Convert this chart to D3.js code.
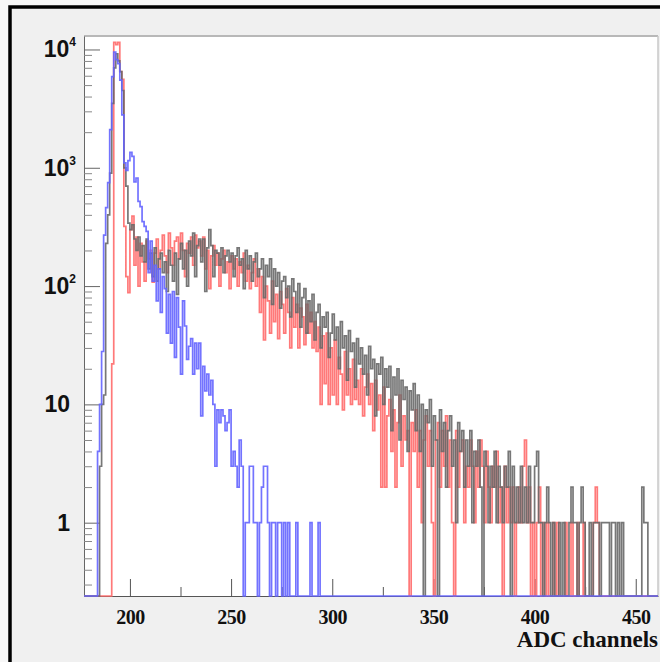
<!DOCTYPE html>
<html><head><meta charset="utf-8">
<script src="https://cdn.jsdelivr.net/npm/d3@7"></script>
<style>body{margin:0;background:#f7f7f7}svg{display:block}</style>
</head><body><svg id="c" width="660" height="662"></svg>
<script>
// ---- data: counts per ADC channel, first bin = channel 177 ----
const channelStart = 177;

const redCounts = [
  0,0,0,
  0,0,0,0,0,0,0,0,0,0,
  0,22,11500,11000,11500,6500,5600,320,120,88,
  300,390,150,260,100,230,160,110,240,170,
  200,108,190,250,140,200,270,180,130,280,
  210,150,240,260,170,280,200,120,230,190,
  260,150,270,210,240,180,260,140,200,95,
  180,220,150,190,100,170,200,130,160,95,
  180,140,170,100,160,130,190,110,150,95,
  130,170,100,140,60,120,35,100,75,40,
  110,50,85,36,90,70,40,95,60,30,
  80,45,70,30,65,55,32,70,40,60,
  30,50,28,45,10,38,15,40,10,30,
  12,35,10,25,18,9,28,12,20,10,
  24,11,16,10,20,8,14,18,10,15,
  6,16,9,12,2,14,2,8,11,4,
  9,2,7,12,3,8,5,6,0,7,
  4,9,2,6,1,5,8,3,6,1,
  0,5,7,2,6,3,8,2,5,1,
  0,6,2,4,5,1,3,2,5,3,
  1,4,2,5,3,1,4,2,1,3,
  2,4,1,2,0,3,1,2,1,2,
  0,1,2,1,3,5,1,2,0,1,
  0,1,2,0,1,0,1,0,0,1,
  0,1,0,0,0,1,0,0,1,0,
  0,1,0,0,1,0,0,0,0,1,
  2,1,0,0,0,0,0,0,0,0,
  0,0,0,0,0,0,0,0,0,0,
  0,0,0,0,0,0,0,0,0,0,
  0
];

const greyCounts = [
  0,0,0,
  0,0,0,0,0,3,10,12,230,400,
  900,3500,7000,9200,8000,6500,4500,1000,700,340,
  300,330,250,200,260,180,220,160,250,140,
  190,120,210,110,170,190,130,160,90,200,
  150,110,190,85,170,230,140,200,100,240,
  180,280,120,220,250,160,250,90,210,300,
  220,120,200,190,150,210,130,180,200,160,
  190,120,180,210,150,170,95,200,140,180,
  110,160,190,120,140,170,80,150,120,170,
  70,140,100,130,65,110,120,80,100,55,
  115,90,60,105,45,80,95,40,75,50,
  85,35,60,70,30,55,45,60,25,40,
  58,35,45,20,50,30,38,16,42,28,
  33,14,36,22,30,18,26,12,31,20,
  24,8,22,18,25,10,20,14,21,6,
  17,12,20,5,16,11,14,4,13,9,
  15,6,12,4,10,0,9,7,11,3,
  8,5,0,9,4,7,2,6,8,3,
  5,1,7,4,6,2,5,3,6,1,
  4,3,5,2,0,4,3,1,3,2,
  4,1,3,2,1,3,2,4,0,3,
  1,2,1,3,1,2,1,3,1,1,
  3,4,1,1,0,1,2,1,0,1,
  0,0,1,0,1,0,0,1,2,1,
  1,0,1,2,1,0,0,1,0,1,
  1,1,0,1,1,1,1,0,1,1,
  0,1,0,1,0,0,0,0,0,0,
  0,0,0,2,1,1,0,0,0,0,
  0
];

const blueCounts = [
  0,0,0,
  0,0,0,0,4,10,28,270,460,750,
  2100,5900,9500,8200,7600,5500,2800,1100,950,1150,
  1350,1250,760,820,520,470,350,320,290,130,
  240,110,150,75,140,60,120,95,40,85,
  33,90,25,80,45,18,75,46,24,31,
  36,18,33,20,33,8,21,13,18,12,
  16,10,3,9,7,9,8,6,7,9,
  3,4,3,2,5,3,0,1,1,3,
  3,1,1,0,1,2,3,3,1,0,
  1,1,0,1,1,0,1,0,1,0,
  0,0,1,0,0,0,0,0,0,1,
  0,0,0,1,0,0,0,0,0,0,
  0,0,0,0,0,0,0,0,0,0,
  0,0,0,0,0,0,0,0,0,0,
  0,0,0,0,0,0,0,0,0,0,
  0,0,0,0,0,0,0,0,0,0,
  0,0,0,0,0,0,0,0,0,0,
  0,0,0,0,0,0,0,0,0,0,
  0,0,0,0,0,0,0,0,0,0,
  0,0,0,0,0,0,0,0,0,0,
  0,0,0,0,0,0,0,0,0,0,
  0,0,0,0,0,0,0,0,0,0,
  0,0,0,0,0,0,0,0,0,0,
  0,0,0,0,0,0,0,0,0,0,
  0,0,0,0,0,0,0,0,0,0,
  0,0,0,0,0,0,0,0,0,0,
  0,0,0,0,0,0,0,0,0,0,
  0,0,0,0,0,0,0,0,0,0,
  0
];

const xMajorTicks = [200, 250, 300, 350, 400, 450];
const xMinorTicks = [225, 275, 325, 375, 425];
const yMajorTicks = [1, 10, 100, 1000, 10000];
const yTickBase = ['1', '10', '10', '10', '10'];
const yTickSup = ['', '', '2', '3', '4'];
const xTitle = 'ADC channels';

// ---- layout ----
const L = 84, T = 36, R = 658, B = 596;
const svg = d3.select('#c');

svg.append('rect').attr('x', 10).attr('y', 7).attr('width', 700).attr('height', 700)
  .attr('fill', '#f0f0f0').attr('stroke', '#000').attr('stroke-width', 3.5);

svg.append('rect').attr('x', L).attr('y', T).attr('width', R - L).attr('height', B - T)
  .attr('fill', '#fff');

const x = d3.scaleLinear().domain([177.3, 461]).range([L, R]);
const y = d3.scaleLog().domain([0.24, 13000]).range([B, T]);

// frame top & right
svg.append('line').attr('x1', L).attr('x2', R).attr('y1', T).attr('y2', T)
  .attr('stroke', '#b8b8b8').attr('stroke-width', 2);
svg.append('line').attr('x1', R).attr('x2', R).attr('y1', T).attr('y2', B)
  .attr('stroke', '#c8c8c8').attr('stroke-width', 1.5);

// axes
const gx = svg.append('g').attr('transform', `translate(0,${B})`)
  .call(d3.axisBottom(x).tickValues(xMajorTicks).tickSizeInner(-17).tickSizeOuter(0)
    .tickPadding(26).tickFormat(d3.format('d')));
gx.select('.domain').attr('stroke', '#555');
gx.selectAll('.tick line').attr('stroke', '#555');
gx.selectAll('.tick text').attr('font-family', 'Liberation Serif, serif')
  .attr('font-weight', 'bold').attr('font-size', 20).attr('fill', '#111')
  .attr('dy', '0.1em').attr('letter-spacing', '-0.5');
const gxm = svg.append('g').attr('transform', `translate(0,${B})`)
  .call(d3.axisBottom(x).tickValues(xMinorTicks).tickSizeInner(-9).tickSizeOuter(0).tickFormat(''));
gxm.select('.domain').remove();
gxm.selectAll('.tick line').attr('stroke', '#555');

const yMinor = y.ticks().filter(v => !yMajorTicks.includes(v));
const gy = svg.append('g').attr('transform', `translate(${L},0)`)
  .call(d3.axisLeft(y).tickValues(yMajorTicks).tickSizeInner(-16).tickSizeOuter(0).tickFormat(''));
gy.select('.domain').attr('stroke', '#666');
gy.selectAll('.tick line').attr('stroke', '#666');
const gym = svg.append('g').attr('transform', `translate(${L},0)`)
  .call(d3.axisLeft(y).tickValues(yMinor).tickSizeInner(-8).tickSizeOuter(0).tickFormat(''));
gym.select('.domain').remove();
gym.selectAll('.tick line').attr('stroke', '#888');

// y labels
yMajorTicks.forEach((v, i) => {
  const t = svg.append('text')
    .attr('x', yTickSup[i] ? 76 : 70).attr('y', y(v) + 8)
    .attr('text-anchor', 'end')
    .attr('font-family', 'Liberation Sans, Arial, sans-serif')
    .attr('font-weight', 'bold').attr('font-size', 23).attr('fill', '#111');
  t.append('tspan').text(yTickBase[i]);
  if (yTickSup[i]) t.append('tspan').attr('font-size', 12).attr('dy', -11).text(yTickSup[i]);
});

// x title
svg.append('text').attr('x', 658).attr('y', 647).attr('text-anchor', 'end')
  .attr('font-family', 'Liberation Serif, serif').attr('font-weight', 'bold')
  .attr('font-size', 23).attr('fill', '#111').text(xTitle);

// histograms
svg.append('clipPath').attr('id', 'clip').append('rect')
  .attr('x', L).attr('y', T - 2).attr('width', R - L).attr('height', B - T + 3);

function histPoints(counts) {
  const pts = counts.map((v, i) => ({ ch: channelStart + i, v }));
  pts.push({ ch: channelStart + counts.length, v: counts[counts.length - 1] });
  return pts;
}
const line = d3.line()
  .x(d => x(d.ch))
  .y(d => d.v > 0 ? y(d.v) : B)
  .curve(d3.curveStepAfter);

const series = [
  { counts: redCounts, color: '#ff6a6a' },
  { counts: greyCounts, color: '#686868' },
  { counts: blueCounts, color: '#6464ff' }
];
const gh = svg.append('g').attr('clip-path', 'url(#clip)');
series.forEach(s => {
  gh.append('path').attr('d', line(histPoints(s.counts)))
    .attr('fill', 'none').attr('stroke', s.color).attr('stroke-width', 1.7)
    .attr('stroke-opacity', 0.9);
});
</script>
</body></html>
